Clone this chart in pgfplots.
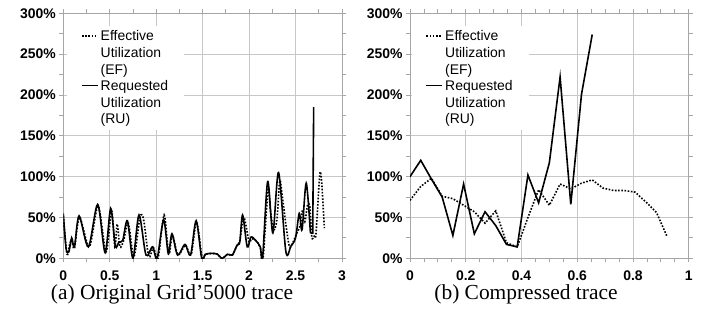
\documentclass[border=0pt]{standalone}
\usepackage{fontspec}
\setmainfont{Liberation Serif}
\newfontfamily\lsans{Liberation Sans}
\usepackage{pgfplots}
\pgfplotsset{compat=1.18}
\begin{document}
\begin{tikzpicture}[x=1bp,y=1bp]
\useasboundingbox (0,0) rectangle (717,320);
\pgfplotsset{
  myaxis/.style={
    scale only axis, width=278.7bp, height=245bp,
    anchor=south west,
    ymin=0, ymax=300,
    ytick={0,50,...,300},
    yticklabels={0\%,50\%,100\%,150\%,200\%,250\%,300\%},
    minor y tick num=1,
    grid=major,
    major grid style={black!22, line width=0.8bp},
    axis line style={black!35, line width=1bp},
    tick style={black!35, line width=0.8bp},
    tick align=outside,
    major tick length=4bp, minor tick length=4bp,
    tick label style={font=\lsans\bfseries\fontsize{14}{16}\selectfont},
    xticklabel style={yshift=-5bp},
    legend cell align=left,
    legend image code/.code={\draw[##1] (0bp,17bp) -- (16bp,17bp);},
    legend style={anchor=north west, draw=none, fill=white,
      font=\lsans\fontsize{14}{17}\selectfont,
      inner xsep=14bp, inner ysep=3bp,
      cells={align=left}},
  },
  ef/.style={black, line width=1.6bp, dash pattern=on 1.6bp off 1.6bp},
  ru/.style={black, line width=1.6bp},
}
\begin{axis}[myaxis, at={(63.3bp,61.7bp)},
  xmin=0, xmax=3, xtick={0,0.5,...,3},
  xticklabels={0,0.5,1,1.5,2,2.5,3},
  minor x tick num=1,
  legend style={at={(0.013,0.951)}}]
\addplot[ef, smooth] coordinates {
(0,52) (0.04,5) (0.07,18) (0.09,22) (0.12,12) (0.175,50) (0.28,14) (0.375,64)
(0.46,8) (0.52,58) (0.555,14) (0.58,42) (0.61,14) (0.65,22) (0.7,43) (0.76,2)
(0.825,50) (0.865,47) (0.92,2) (0.97,13) (1.02,0) (1.085,53) (1.135,5) (1.175,28)
(1.235,4) (1.315,16) (1.375,4) (1.435,44) (1.495,0) (1.53,5) (1.6,6) (1.66,5)
(1.71,0) (1.77,5) (1.82,4) (1.87,16) (1.9,22) (1.94,50) (1.97,38) (2.0,20)
(2.03,24) (2.08,21) (2.12,13) (2.15,0) (2.205,85) (2.23,58) (2.265,35) (2.3,48)
(2.33,95) (2.355,78) (2.40,38) (2.435,14) (2.47,19) (2.51,30) (2.55,40) (2.575,59)
(2.6,45) (2.63,66) (2.655,62) (2.675,26) (2.70,27) (2.72,30) (2.76,102) (2.78,95)
(2.81,37)
};
\addlegendentry{Effective\\Utilization\\(EF)}
\addplot[ru, smooth] coordinates {
(0,55) (0.03,12) (0.06,8) (0.09,25) (0.12,14) (0.17,52) (0.27,14) (0.37,66)
(0.45,7) (0.51,61) (0.56,15) (0.6,20) (0.64,22) (0.69,46) (0.75,0) (0.815,53)
(0.89,4) (0.96,14) (1.01,0) (1.08,47) (1.13,6) (1.17,30) (1.23,4) (1.31,17)
(1.37,4) (1.43,46) (1.49,0) (1.53,5) (1.6,6) (1.66,5) (1.71,0) (1.77,5)
(1.82,4) (1.87,16) (1.9,20) (1.93,53) (1.98,14) (2.02,26) (2.07,22) (2.12,14)
(2.145,0) (2.2,94) (2.256,31) (2.317,105) (2.396,8) (2.45,15) (2.5,25) (2.54,55)
(2.57,35) (2.615,92) (2.66,31)
};
\addlegendentry{Requested\\Utilization\\(RU)}
\addplot[ru, forget plot] coordinates {(2.66,31) (2.685,31) (2.695,185)};
\end{axis}
\begin{axis}[myaxis, at={(410bp,61.7bp)},
  xmin=0, xmax=1, xtick={0,0.2,...,1},
  xticklabels={0,0.2,0.4,0.6,0.8,1},
  minor x tick num=3,
  legend style={at={(0.005,0.951)}}]
\addplot[ef] coordinates {
(0.000,71) (0.0385,88) (0.0769,98) (0.1154,76) (0.1538,73) (0.1923,65) (0.2308,57)
(0.2692,43) (0.3077,58) (0.3462,19) (0.3846,14) (0.4231,50) (0.4615,84) (0.5000,65)
(0.5385,91) (0.5769,85) (0.6154,92) (0.6538,96) (0.6923,86) (0.7308,83) (0.7692,83)
(0.8077,81) (0.8462,69) (0.8846,56) (0.9231,26)
};
\addlegendentry{Effective\\Utilization\\(EF)}
\addplot[ru] coordinates {
(0.000,100) (0.0385,120) (0.0769,97) (0.1154,75) (0.1538,28) (0.1923,91) (0.2308,30)
(0.2692,57) (0.3077,40) (0.3462,17) (0.3846,14) (0.4231,102) (0.4615,68) (0.5000,117)
(0.5385,222) (0.5769,66) (0.6154,201) (0.6538,274)
};
\addlegendentry{Requested\\Utilization\\(RU)}
\end{axis}
\node[anchor=base, font=\fontsize{21.5}{26}\selectfont] at (172,21) {(a) Original Grid’5000 trace};
\node[anchor=base, font=\fontsize{21.5}{26}\selectfont] at (526,21) {(b) Compressed trace};
\end{tikzpicture}
\end{document}
